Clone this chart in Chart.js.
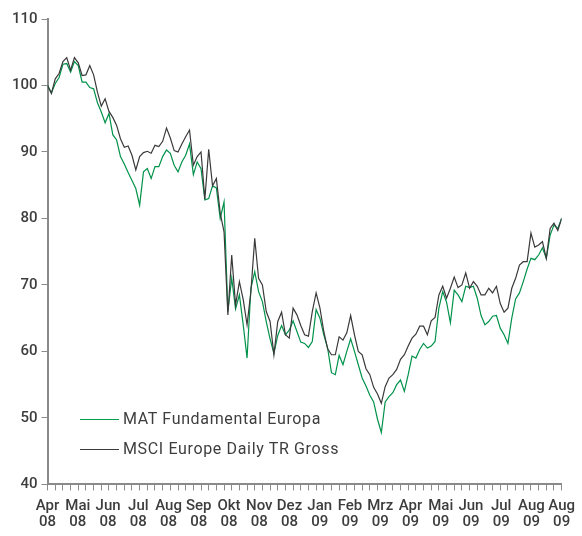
<!DOCTYPE html>
<html>
<head>
<meta charset="utf-8">
<script src="https://cdn.jsdelivr.net/npm/chart.js@4/dist/chart.umd.min.js"></script>
<style>
  body { margin: 0; background: #fff; }
  #wrap { position: relative; width: 582px; height: 536px; }
  .legend { position: absolute; left: 80px; font-family: Roboto, sans-serif; font-size: 16px; letter-spacing: 0.65px; color: #3d3d3d; white-space: nowrap; line-height: 20px; }
  .legend span.line { display: inline-block; width: 39px; height: 0; border-top: 1px solid; vertical-align: middle; margin-right: 4px; }
</style>
</head>
<body>
<div id="wrap">
  <canvas id="chart" width="582" height="536"></canvas>
  <div class="legend" style="top:409px"><span class="line" style="border-color:#00a04f"></span>MAT Fundamental Europa</div>
  <div class="legend" style="top:439px"><span class="line" style="border-color:#3a3a3a"></span>MSCI Europe Daily TR Gross</div>
</div>
<script>
// weekly tick marks along the x axis, data sampled twice per week tick
var weekTicks = 67;
var monthLabels = [["Apr","08"],["Mai","08"],["Jun","08"],["Jul","08"],["Aug","08"],["Sep","08"],
    ["Okt","08"],["Nov","08"],["Dez","08"],["Jan","09"],["Feb","09"],["Mrz","09"],
    ["Apr","09"],["Mai","09"],["Jun","09"],["Jul","09"],["Aug","09"],["Aug","09"]];

var matFund = [100,98.9,100.3,101.2,103.2,103.3,102.0,103.6,103.0,100.5,
    100.5,99.7,99.5,97.4,96.0,94.4,95.8,92.6,91.8,89.3,
    88.2,86.9,85.7,84.5,82.0,87.0,87.5,86.0,87.8,87.8,
    89.3,90.3,89.8,88.0,87.0,88.5,89.5,91.2,86.6,88.5,
    87.5,82.8,83.0,84.9,84.6,80.0,82.5,66.0,71.0,66.4,
    68.5,64.0,59.0,69.5,72.0,69.0,67.5,64.5,61.9,59.7,
    62.4,63.9,62.5,63.2,64.6,63.0,61.4,61.2,60.6,61.5,
    66.3,65.0,62.5,60.5,56.8,56.5,59.4,58.0,60.0,61.9,
    60.0,58.0,56.0,54.8,53.4,52.4,49.8,47.8,52.4,53.2,
    53.8,55.0,55.7,54.0,56.5,59.3,59.0,60.3,61.2,60.5,
    60.8,61.5,66.5,69.0,67.4,64.3,69.2,68.5,67.5,69.8,
    69.6,69.8,68.0,65.4,64.0,64.5,65.3,65.4,63.5,62.5,
    61.2,65.0,67.9,68.8,70.5,72.4,74.0,73.8,74.5,75.6,
    74.0,77.5,79.0,78.5,80.0];

var msciEurope = [100,98.8,101.0,101.8,103.6,104.2,102.3,104.2,103.4,101.5,
    101.6,103.0,101.6,99.0,96.9,98.0,96.1,95.2,94.0,92.0,
    90.7,90.9,89.5,87.3,89.3,89.9,90.1,89.8,91.0,90.8,
    91.6,93.6,92.1,90.2,90.0,91.2,92.3,93.3,88.0,89.3,
    90.0,82.9,90.4,84.9,86.0,80.8,78.0,65.5,74.5,67.0,
    70.5,67.8,64.0,69.0,77.0,71.0,70.0,66.0,64.5,59.5,
    64.5,65.9,62.5,62.0,66.5,65.5,63.9,62.5,62.3,66.0,
    68.8,66.5,63.0,60.4,59.5,59.5,62.2,61.7,62.8,65.4,
    62.5,60.0,59.5,57.4,56.5,54.6,53.6,52.2,54.7,56.0,
    56.5,57.3,58.8,59.5,60.8,62.0,62.6,63.8,63.8,62.5,
    64.6,65.1,68.5,69.8,68.0,69.5,71.2,69.6,70.0,71.8,
    69.5,70.5,69.8,68.5,68.5,69.5,68.8,69.8,67.2,65.9,
    66.5,69.5,71.0,73.0,73.5,73.5,77.8,75.7,76.0,76.5,
    74.0,78.5,79.3,78.2,80.0];

function toPoints(arr) {
    return arr.map(function(v, i){ return {x: i * 0.5, y: v}; });
}

Chart.defaults.font.family = 'Roboto, sans-serif';
Chart.defaults.font.size = 15;
Chart.defaults.color = '#3d3d3d';

var ctx = document.getElementById('chart');
var chart = new Chart(ctx, {
    type: 'line',
    data: {
        datasets: [
        {
            label: 'MAT Fundamental Europa',
            data: toPoints(matFund),
            borderColor: '#00924a',
            borderWidth: 1.2,
            pointRadius: 0,
            tension: 0,
            order: 2
        },
        {
            label: 'MSCI Europe Daily TR Gross',
            data: toPoints(msciEurope),
            borderColor: '#3a3a3a',
            borderWidth: 1.2,
            pointRadius: 0,
            tension: 0,
            order: 1
        }
        ]
    },
    options: {
        responsive: false,
        animation: false,
        devicePixelRatio: 1,
        layout: { padding: { left: 8, right: 6, top: 19, bottom: 0 } },
        plugins: { legend: { display: false }, tooltip: { enabled: false } },
        scales: {
            x: {
                type: 'linear',
                position: 'bottom',
                min: 0,
                max: weekTicks,
                weight: 0,
                afterBuildTicks: function(scale) {
                    var t = [];
                    for (var i = 0; i <= weekTicks; i++) t.push({value: i});
                    scale.ticks = t;
                },
                ticks: { display: false },
                grid: { drawOnChartArea: false, drawTicks: true, tickLength: 6, color: '#8a8a8a', lineWidth: 1 },
                border: { display: true, color: '#8a8a8a', width: 2 }
            },
            xm: {
                type: 'category',
                position: 'bottom',
                labels: monthLabels,
                offset: false,
                weight: 1,
                afterFit: function(scale) { scale.height -= 2; },
                grid: { display: false, drawTicks: false },
                border: { display: false },
                ticks: { autoSkip: false, maxRotation: 0, padding: 7, font: { size: 15, weight: '500', lineHeight: 1.12 } }
            },
            y: {
                min: 40,
                max: 110,
                ticks: { stepSize: 10, padding: 4, font: { size: 15, weight: '500' } },
                grid: { drawOnChartArea: false, drawTicks: true, tickLength: 6, color: '#8a8a8a' },
                border: { display: true, color: '#8a8a8a', width: 2 }
            }
        }
    }
});
</script>
</body>
</html>
